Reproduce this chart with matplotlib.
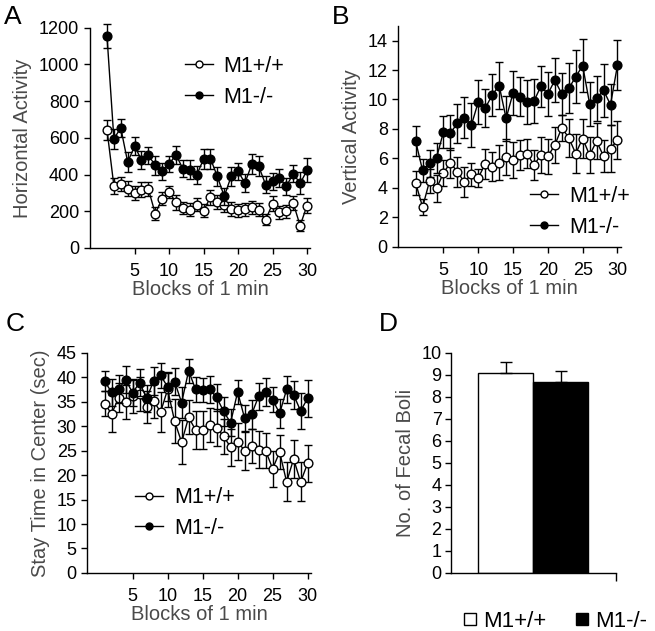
import numpy as np
import matplotlib.pyplot as plt
from matplotlib.lines import Line2D

plt.rcParams['font.family'] = ['Liberation Sans', 'DejaVu Sans']

blocks = np.arange(1, 31)

# A: horizontal activity
horiz_wt = [644, 339, 349, 323, 300, 318, 321, 187, 269, 305, 249, 218, 209, 236, 203,
            276, 250, 236, 212, 205, 212, 221, 209, 154, 241, 194, 200, 245, 122, 231]
horiz_wt_err = [55, 45, 40, 40, 40, 40, 40, 35, 35, 35, 40, 35, 35, 35, 35,
                40, 40, 40, 40, 35, 35, 35, 35, 30, 40, 35, 35, 40, 30, 40]
horiz_ko = [1156, 595, 654, 468, 554, 481, 505, 450, 418, 457, 508, 432, 427, 396, 485,
            487, 390, 281, 390, 418, 354, 457, 445, 345, 363, 381, 336, 405, 352, 423]
horiz_ko_err = [65, 55, 50, 55, 50, 50, 45, 50, 45, 45, 50, 45, 50, 50, 55,
                55, 50, 45, 50, 45, 50, 55, 55, 45, 45, 50, 45, 45, 60, 65]

# B: vertical activity
vert_wt = [4.34, 2.69, 4.46, 3.96, 5.02, 5.70, 5.09, 4.39, 4.91, 4.68, 5.63, 5.43, 5.72, 6.09, 5.88,
           6.22, 6.33, 5.54, 6.24, 6.15, 6.90, 8.08, 7.40, 6.33, 7.35, 6.22, 7.17, 6.15, 6.67, 7.24]
vert_wt_err = [0.8, 0.55, 0.8, 0.9, 0.9, 1.0, 1.0, 1.0, 0.8, 0.6, 1.0, 1.0, 1.2, 1.2, 1.2,
               1.0, 1.0, 1.0, 1.2, 1.2, 1.2, 0.9, 1.3, 1.3, 1.3, 1.2, 1.2, 1.1, 1.6, 1.3]
vert_ko = [7.17, 5.18, 5.66, 6.04, 7.80, 7.74, 8.37, 8.76, 8.24, 9.84, 9.41, 10.30, 10.95, 8.71, 10.45,
           10.20, 9.84, 9.89, 10.90, 10.38, 11.31, 10.38, 10.75, 11.54, 12.30, 9.70, 10.07, 10.63, 9.64, 12.33]
vert_ko_err = [1.0, 0.8, 0.9, 1.0, 1.1, 1.2, 1.3, 1.4, 1.5, 1.5, 1.3, 1.4, 1.6, 1.5, 1.5,
               1.3, 1.5, 1.5, 1.4, 1.5, 1.5, 1.4, 1.7, 1.8, 1.8, 1.5, 1.5, 1.8, 1.4, 1.7]

# C: stay time in center
center_wt = [34.6, 32.5, 35.8, 34.9, 36.1, 36.5, 33.9, 35.1, 32.9, 37.5, 31.0, 26.7, 31.8, 29.2, 29.2,
             30.2, 29.7, 27.9, 25.7, 26.8, 25.0, 25.9, 25.2, 25.0, 21.3, 24.7, 18.6, 23.3, 18.6, 22.4]
center_wt_err = [2.5, 3.8, 3.0, 3.5, 3.5, 3.5, 3.2, 3.5, 4.0, 3.5, 4.5, 4.5, 3.5, 3.8, 3.8,
                 3.5, 3.8, 3.5, 3.8, 3.8, 4.0, 3.5, 3.8, 3.5, 3.7, 3.5, 4.0, 3.8, 4.0, 3.8]
center_ko = [39.2, 36.9, 37.6, 39.5, 36.8, 38.9, 35.7, 39.2, 40.4, 38.0, 39.1, 34.8, 41.3, 37.5, 37.4,
             37.5, 35.9, 33.0, 30.7, 37.0, 31.6, 32.4, 36.1, 37.0, 35.4, 32.6, 37.5, 36.4, 33.1, 35.7]
center_ko_err = [2.0, 2.8, 2.8, 2.8, 2.7, 2.8, 2.8, 2.8, 2.6, 2.8, 2.8, 3.2, 2.5, 2.5, 2.5,
                 2.8, 2.8, 3.0, 2.7, 2.5, 2.8, 3.0, 2.8, 2.9, 2.5, 3.0, 2.8, 2.8, 3.7, 3.8]

# D: fecal boli
groups = ['M1+/+', 'M1-/-']
boli = [9.1, 8.65]
boli_err = [0.48, 0.53]

fig = plt.figure(figsize=(6.55, 6.31), dpi=100)

ax_a = fig.add_axes([0.137, 0.607, 0.337, 0.349])
ax_b = fig.add_axes([0.608, 0.609, 0.340, 0.350])
ax_c = fig.add_axes([0.133, 0.092, 0.342, 0.349])
ax_d = fig.add_axes([0.688, 0.092, 0.252, 0.349])

gray = '#4a4a4a'
lab_fs = 14.5
tick_fs = 13
leg_fs = 15.5


def style(ax):
    for s in ['top', 'right']:
        ax.spines[s].set_visible(False)
    ax.spines['left'].set_linewidth(1.0)
    ax.spines['bottom'].set_linewidth(1.0)
    ax.tick_params(direction='out', length=4, width=1.0, labelsize=tick_fs, pad=3.5)
    ax.tick_params(axis='x', pad=7)


def lineplot(ax, wt, wt_err, ko, ko_err):
    ax.errorbar(blocks, wt, yerr=wt_err, fmt='-o', color='k', mfc='white', mec='k',
                ms=6.3, lw=1.0, elinewidth=1.0, capsize=3, capthick=1.0,
                label='M1+/+', clip_on=False, zorder=3)
    ax.errorbar(blocks, ko, yerr=ko_err, fmt='-o', color='k', mfc='k', mec='k',
                ms=6.3, lw=1.0, elinewidth=1.0, capsize=3, capthick=1.0,
                label='M1-/-', clip_on=False, zorder=4)
    ax.set_xlim(-1.5, 30.5)
    ax.set_xticks([5, 10, 15, 20, 25, 30])
    ax.set_xlabel('Blocks of 1 min', fontsize=lab_fs, color=gray, labelpad=0)
    style(ax)


def small_legend(ax, x, y):
    hs = [Line2D([0], [0], color='k', lw=1.0, marker='o', mfc='white', mec='k', ms=5),
          Line2D([0], [0], color='k', lw=1.0, marker='o', mfc='k', mec='k', ms=5)]
    ax.legend(hs, ['M1+/+', 'M1-/-'], loc='upper left', bbox_to_anchor=(x, y),
              frameon=False, fontsize=leg_fs, handlelength=1.3, handletextpad=0.5,
              labelspacing=0.45, borderaxespad=0, borderpad=0)


lineplot(ax_a, horiz_wt, horiz_wt_err, horiz_ko, horiz_ko_err)
ax_a.set_ylim(0, 1200)
ax_a.set_yticks(range(0, 1201, 200))
ax_a.set_ylabel('Horizontal Activity', fontsize=lab_fs, color=gray, labelpad=5)
small_legend(ax_a, 0.43, 0.872)

lineplot(ax_b, vert_wt, vert_wt_err, vert_ko, vert_ko_err)
ax_b.set_ylim(0, 15)
ax_b.set_yticks(range(0, 15, 2))
ax_b.set_ylabel('Vertical Activity', fontsize=lab_fs, color=gray, labelpad=5)
small_legend(ax_b, 0.592, 0.275)

lineplot(ax_c, center_wt, center_wt_err, center_ko, center_ko_err)
ax_c.set_ylim(0, 45)
ax_c.set_yticks(range(0, 46, 5))
ax_c.set_ylabel('Stay Time in Center (sec)', fontsize=lab_fs, color=gray, labelpad=5)
small_legend(ax_c, 0.214, 0.39)

# only the upper half of the error bar is shown
ax_d.bar([1 / 3, 2 / 3], boli, width=1 / 3, color=['white', 'black'], edgecolor='k',
         linewidth=1.0, yerr=[[0, 0], boli_err],
         error_kw=dict(elinewidth=1.0, capsize=4, capthick=1.0, ecolor='k'))
ax_d.set_xlim(0, 1)
ax_d.set_ylim(0, 10)
ax_d.set_yticks(range(0, 11))
ax_d.set_xticks([1.0])
ax_d.set_xticklabels([''])
ax_d.set_ylabel('No. of Fecal Boli', fontsize=lab_fs, color=gray, labelpad=5)
style(ax_d)
ax_d.tick_params(axis='y', pad=2.5)
ax_d.tick_params(axis='x', length=6)

hs = [Line2D([0], [0], ls='none', marker='s', mfc='white', mec='k', ms=9, mew=1.0),
      Line2D([0], [0], ls='none', marker='s', mfc='k', mec='k', ms=9, mew=1.0)]
fig.legend(hs, groups, loc='center', bbox_to_anchor=(0.848, 0.015), ncol=2,
           frameon=False, fontsize=16, handlelength=0.6, handletextpad=0.3,
           columnspacing=1.3, borderpad=0)

for letter, x, y in [('A', 0.006, 0.973), ('B', 0.507, 0.973),
                     ('C', 0.008, 0.486), ('D', 0.579, 0.486)]:
    fig.text(x, y, letter, fontsize=19, ha='left', va='center')

fig.savefig('out.png', dpi=100)
